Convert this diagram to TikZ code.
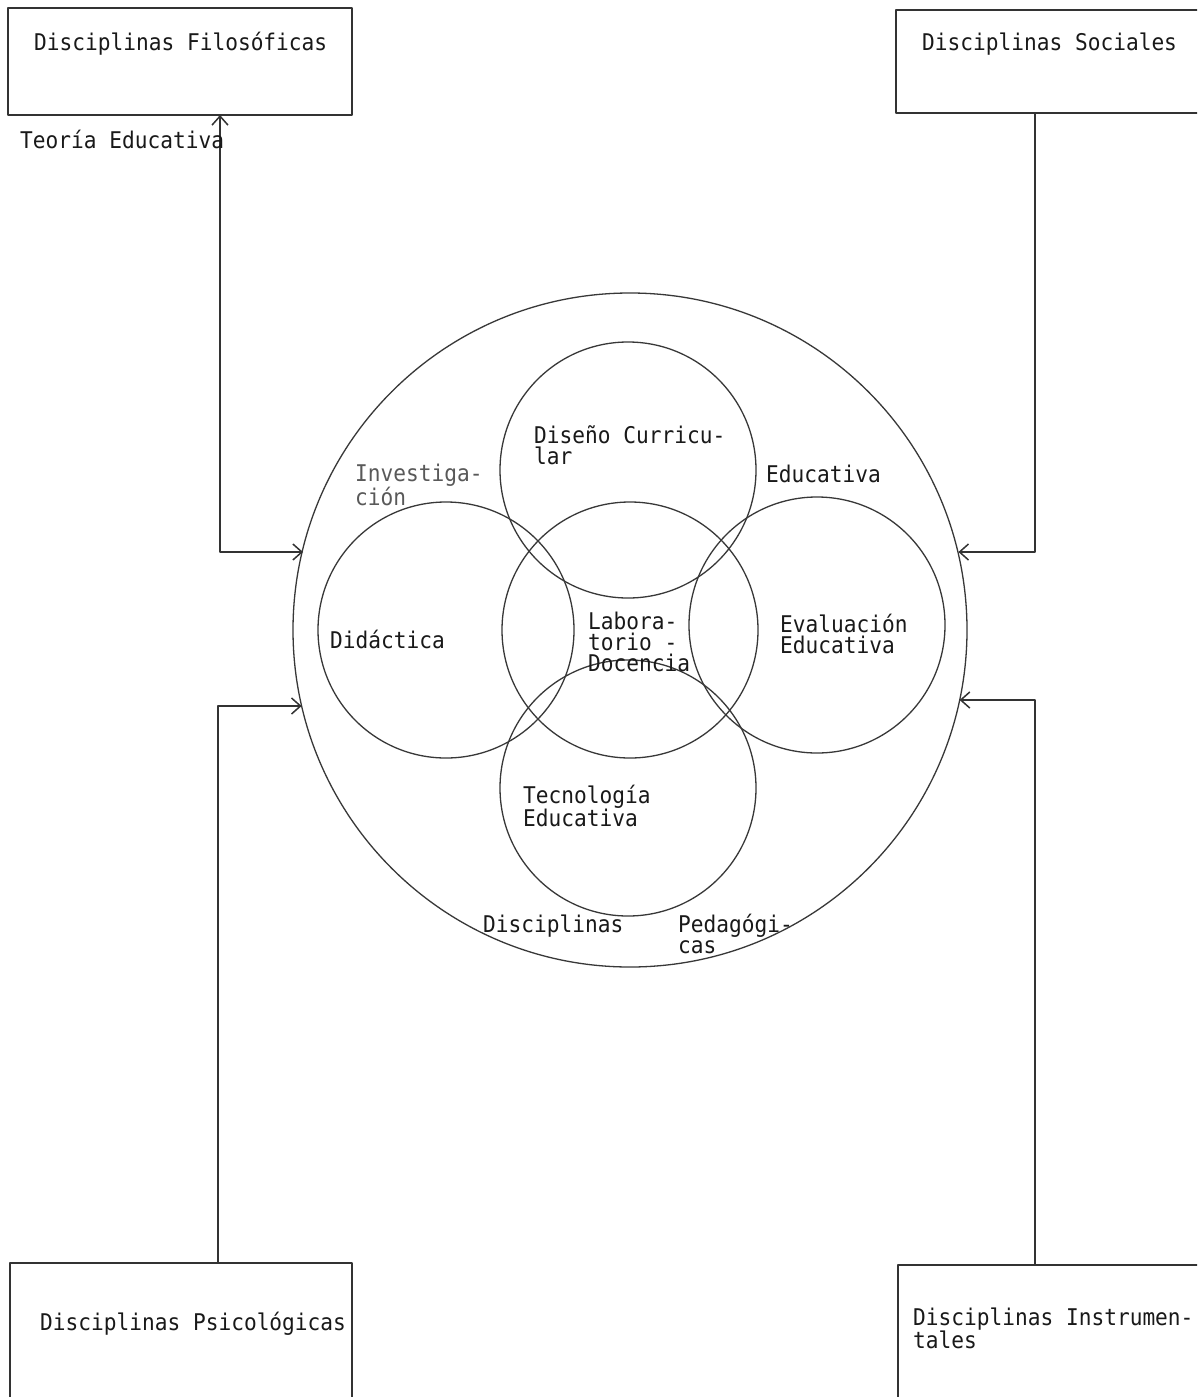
\documentclass[tikz,border=0pt]{standalone}
\usepackage{fontspec}
\newfontfamily\tw[FakeStretch=0.92]{DejaVu Sans Mono}
\usetikzlibrary{arrows.meta}
\newcommand\tp{\rule{0pt}{20pt}}
\begin{document}
\begin{tikzpicture}[x=1pt,y=-1pt,
  ln/.style={draw=black!80,line width=1.5pt},
  ring/.style={circle,draw=black!78,line width=1.3pt,inner sep=0pt,outer sep=0pt,minimum size=#1},
  boxn/.style={rectangle,ln,inner sep=0pt,outer sep=0pt},
  lbl/.style={font=\tw\fontsize{23}{21}\selectfont,text=black!90,inner sep=0pt,anchor=north west,align=left},
  >={Straight Barb[length=9pt,width=16pt]},
  arr/.style={ln,->},
  line join=round]
\useasboundingbox (0,0) rectangle (1197,1397);
\clip (0,0) rectangle (1197,1397);
\fill[white] (0,0) rectangle (1197,1397);

% boxes
\node[boxn,minimum width=344pt,minimum height=107pt,anchor=north west] (fil) at (8,8) {};
\node[boxn,minimum width=330pt,minimum height=103pt,anchor=north west] (soc) at (896,10) {};
\node[boxn,minimum width=342pt,minimum height=150pt,anchor=north west] (psi) at (10,1263) {};
\node[boxn,minimum width=330pt,minimum height=150pt,anchor=north west] (ins) at (898,1265) {};

% circles
\node[ring=674pt] (big) at (630,630) {};
\node[ring=256pt] (dis) at (628,470) {};
\node[ring=256pt] (lab) at (630,630) {};
\node[ring=256pt] (did) at (446,630) {};
\node[ring=256pt] (eva) at (817,625) {};
\node[ring=256pt] (tec) at (628,788) {};

% connectors
\coordinate (cL1) at (220,552);
\coordinate (cL2) at (218,706);
\coordinate (cR1) at (1035,552);
\coordinate (cR2) at (1035,700);
\draw[ln,<->] (cL1 |- fil.south) -- (cL1) -- (cL1 -| big.166.6);
\draw[arr] (cL2 |- psi.north) -- (cL2) -- (cL2 -| big.193);
\draw[arr] (cR1 |- soc.south) -- (cR1) -- (cR1 -| big.13.4);
\draw[arr] (cR2 |- ins.north) -- (cR2) -- (cR2 -| big.-12);

% labels
\node[lbl] (tfil) at (34,30) {\tp Disciplinas Filosóficas};
\node[lbl] (tteo) at (20,128) {\tp Teoría Educativa};
\node[lbl] (tsoc) at (922,30) {\tp Disciplinas Sociales};
\node[lbl] (tpsi) at (40,1310) {\tp Disciplinas Psicológicas};
\node[lbl] (tins) at (913,1305) {\tp Disciplinas Instrumen-\\tales};
\node[lbl] (tdis) at (534,423) {\tp Diseño Curricu-\\lar};
\node[lbl,text=black!65] (tinv) at (355,461) {\tp Investiga-\\ción};
\node[lbl] (tedu) at (766,462) {\tp Educativa};
\node[lbl] (tdid) at (330,628) {\tp Didáctica};
\node[lbl] (tlab) at (588,609) {\tp Labora-\\torio -\\Docencia};
\node[lbl] (teva) at (780,612) {\tp Evaluación\\Educativa};
\node[lbl] (ttec) at (523,783) {\tp Tecnología\\Educativa};
\node[lbl] (tdsp) at (483,912) {\tp Disciplinas};
\node[lbl] (tped) at (678,912) {\tp Pedagógi-\\cas};
\end{tikzpicture}
\end{document}
